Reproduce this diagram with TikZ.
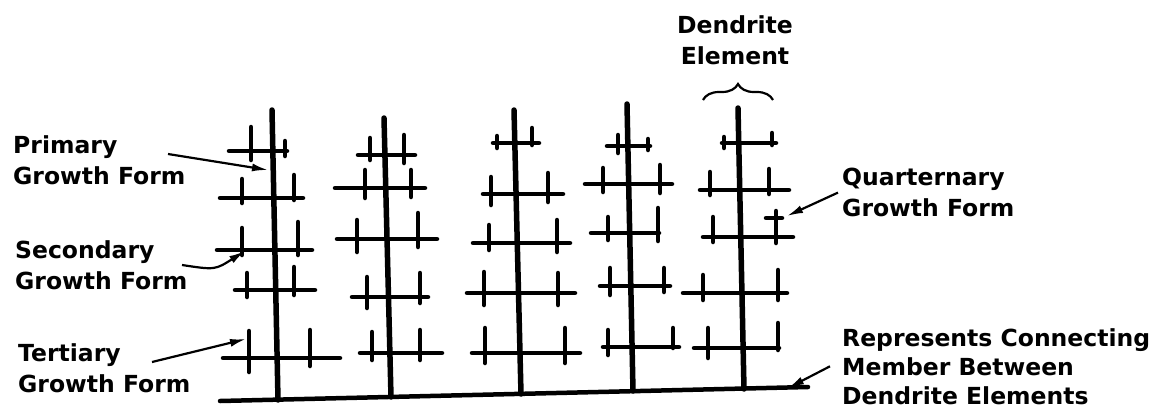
\documentclass[tikz,border=0pt]{standalone}
\usepackage{fontspec}
\setmainfont{DejaVu Sans}
\usetikzlibrary{arrows.meta,decorations.pathreplacing}
\tikzset{
  trunk/.style={line width=5.5pt,line cap=round},
  limb/.style={line width=4.5pt,line cap=round},
  lead/.style={line width=2.2pt,-{Latex[length=16pt,width=8pt]}},
  lbl/.style={font=\fontsize{23.5pt}{31pt}\selectfont\bfseries,align=left,inner sep=0pt,anchor=north west}
}
\begin{document}
\begin{tikzpicture}[x=1pt,y=-1pt]
 \useasboundingbox (0,0) rectangle (1163,416);
 % connecting member
 \draw[limb] (220,401)--(808,387);
 % trunks of the five dendrite elements
 \foreach \xa/\ya/\xb/\yb in {272/110/278/400, 384/118/391/397, 514/110/521/394,
    627/104/633/391, 738/108/744/389}
    \draw[trunk] (\xa,\ya)--(\xb,\yb);
 % secondary branches
 \foreach \y/\l/\r in {151/229/287, 198/220/303, 250/217/312, 290/235/315, 358/223/340,
    155/358/415, 188/335/425, 239/337/437, 297/352/428, 353/360/442,
    143/493/539, 194/483/563, 243/473/570, 293/467/575, 353/472/580,
    146/607/650, 184/585/672, 233/591/659, 286/600/670, 347/603/679,
    143/722/776, 190/700/789, 237/703/793, 293/683/787, 348/694/779}
    \draw[limb] (\l,\y)--(\r,\y);
 % tertiary ticks
 \foreach \x/\t/\b in {251/127/160, 285/141/156, 242/179/203, 294/175/200, 242/228/255,
    298/222/255, 247/273/297, 294/267/295, 249/331/372, 310/330/366,
    370/138/160, 404/135/163, 365/170/198, 411/170/197, 357/220/252,
    418/213/247, 367/277/308, 420/273/303, 372/332/360, 420/330/360,
    497/136/148, 532/128/145, 491/177/205, 548/173/202, 489/225/250,
    557/220/252, 484/272/305, 558/273/305, 485/328/363, 565/328/363,
    618/135/153, 648/139/150, 603/168/192, 660/165/193, 608/217/240,
    658/208/241, 610/268/295, 664/268/292, 608/330/355, 673/328/348,
    724/137/148, 772/133/145, 710/172/195, 769/169/194, 713/217/242,
    776/211/243, 703/275/300, 778/270/300, 708/328/358, 778/323/350}
    \draw[limb] (\x,\t)--(\x,\b);
 % quaternary form
 \draw[limb] (766,218)--(782,218);
 % brace over the last element
 \draw[line width=2.2pt,decorate,decoration={brace,amplitude=16pt}] (703,100)--(773,100);
 % labels
 \node[lbl] (prim) at (13,135) {Primary\\Growth Form};
 \node[lbl] (sec) at (15,240) {Secondary\\Growth Form};
 \node[lbl] (tert) at (18,343) {Tertiary\\Growth Form};
 \node[lbl] (quart) at (842,168) {Quarternary\\Growth Form};
 \node[lbl,font=\fontsize{23.5pt}{29pt}\selectfont\bfseries] (conn) at (842,328)
    {Represents Connecting\\Member Between\\Dendrite Elements};
 \node[lbl,align=center,anchor=north] (dend) at (735,15) {Dendrite\\Element};
 % leaders
 \coordinate (primtail) at (168,154);
 \coordinate (primtip) at (268,170);
 \coordinate (sectail) at (182,265);
 \coordinate (sectip) at (245,251);
 \coordinate (terttail) at (152,362);
 \coordinate (tertip) at (246,339);
 \coordinate (quarttip) at (787,216);
 \coordinate (conntip) at (788,388);
 \draw[lead] (primtail)--(primtip);
 \draw[lead] (sectail) .. controls (215,270) .. (sectip);
 \draw[lead] (terttail)--(tertip);
 \draw[lead] ([xshift=-4pt]quart.west)--(quarttip);
 \draw[lead] ([xshift=-12pt]conn.west)--(conntip);
\end{tikzpicture}
\end{document}
